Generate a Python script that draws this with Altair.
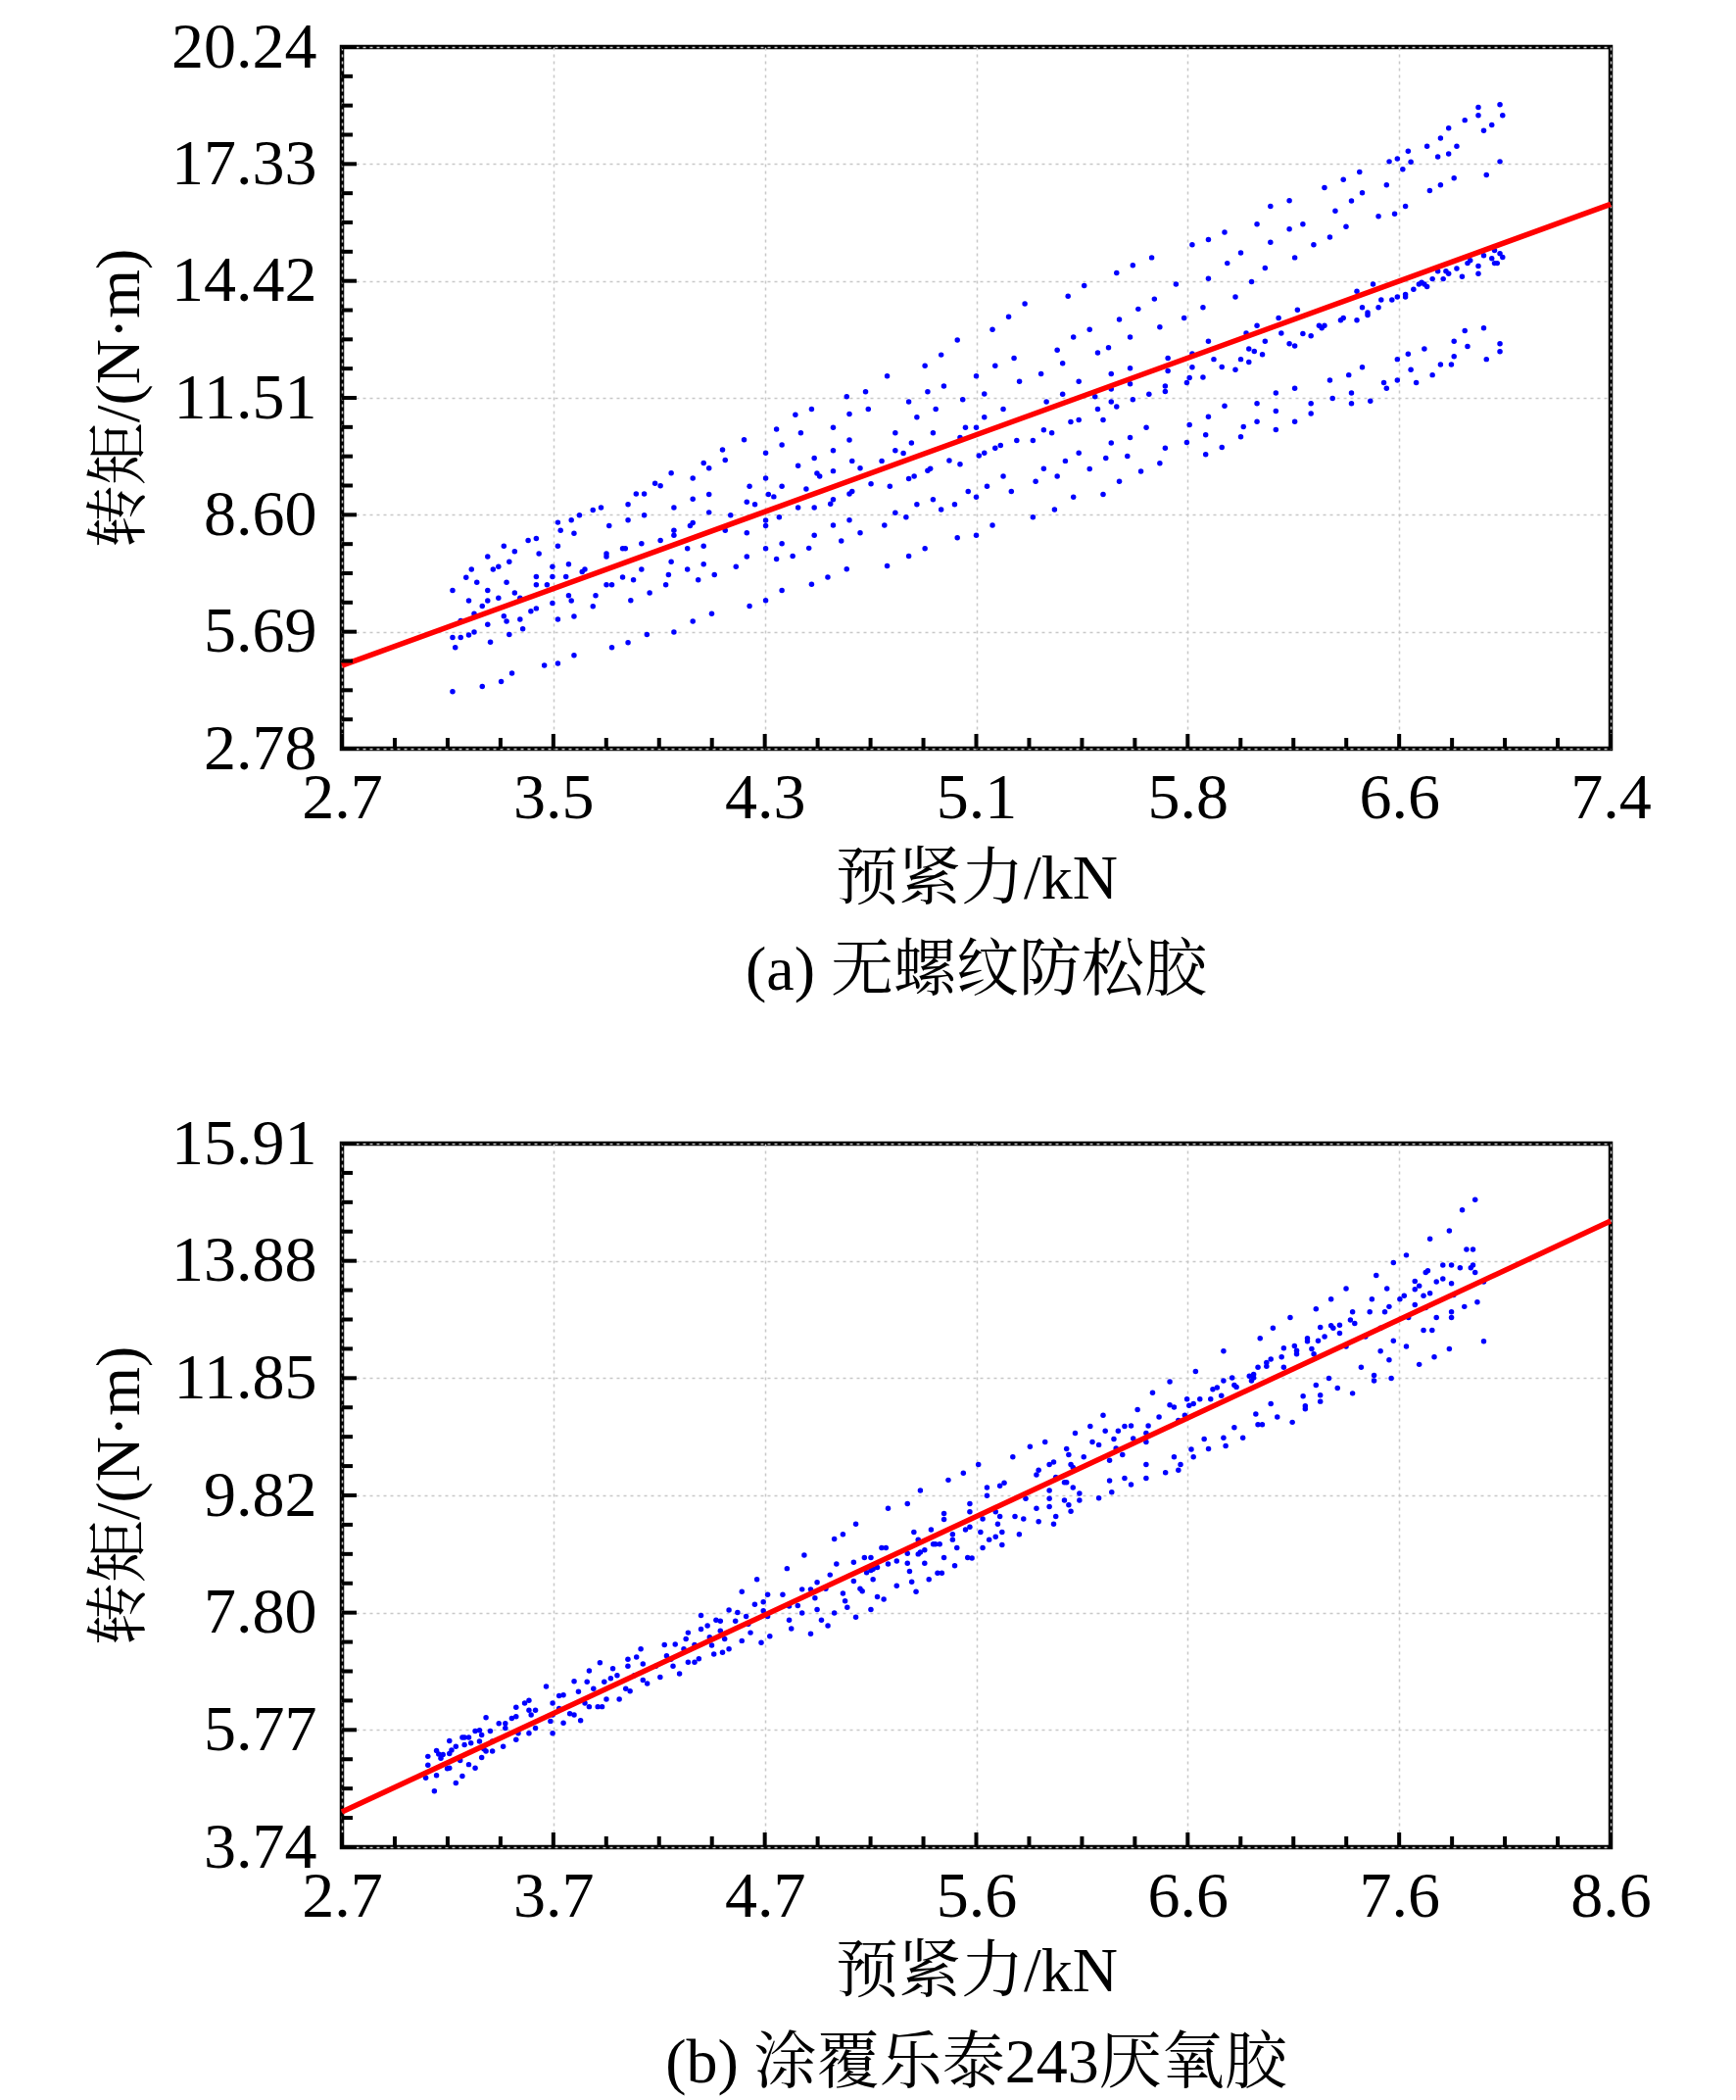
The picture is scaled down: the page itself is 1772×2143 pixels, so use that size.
import altair as alt
import pandas as pd

FONT = "Liberation Serif, Noto Serif CJK SC, Noto Sans CJK SC"

# ---------------- panel (a) data: (预紧力 kN, 转矩 N·m) ----------------
a_pts_1 = [(3.11,6.72),(3.11,4.20),(3.11,5.55),(3.14,5.55),(3.12,5.30),(3.14,5.96),(3.16,7.04),(3.17,6.46),
 (3.17,5.61),(3.19,5.68),(3.18,7.24),(3.19,6.14),(3.20,6.92),(3.22,6.33),(3.22,4.33),(3.24,7.56),(3.24,6.72),
 (3.24,6.46),(3.24,5.87),(3.25,5.43),(3.26,7.24),(3.28,7.31),(3.28,6.53),(3.29,4.45),(3.30,7.82),(3.30,6.08),
 (3.31,5.95),(3.31,6.92),(3.32,7.43),(3.32,5.62),(3.33,4.66),(3.34,7.69),(3.34,6.66),(3.36,6.53),(3.36,6.00),
 (3.37,5.76),(3.39,7.96),(3.40,6.20),(3.42,6.27),(3.42,8.01),(3.42,7.06),(3.42,6.86),(3.43,7.63),(3.45,4.85),
 (3.46,6.86),(3.48,7.31),(3.48,7.06),(3.48,6.40),(3.50,8.41),(3.50,7.82),(3.50,6.00),(3.50,4.90),(3.51,8.21),
 (3.53,7.06),(3.54,7.37),(3.54,6.59),(3.55,6.46),(3.55,8.47),(3.56,8.14),(3.56,6.07),(3.56,5.10),(3.58,8.59),
 (3.59,7.18),(3.60,7.24),(3.63,8.72),(3.66,8.78),(3.63,6.32),(3.64,6.59),(3.68,6.86),(3.70,6.86),(3.68,7.63),
 (3.68,7.56),(3.69,8.33),(3.70,5.30),(3.74,7.76),(3.75,7.76),(3.74,7.05),(3.76,8.86),(3.76,8.47),(3.76,5.42),
 (3.77,6.47),(3.78,6.98),(3.79,9.12),(3.82,9.12),(3.81,7.88),(3.81,7.24),(3.82,8.59),(3.83,5.62),(3.84,6.66),
 (3.86,9.38),(3.88,9.32),(3.88,7.96),(3.90,6.86),(3.91,7.11),(3.92,9.64),(3.92,7.43),(3.93,8.78),(3.93,8.21),
 (3.93,8.09),(3.93,5.68),(3.98,7.76),(3.98,7.24),(3.99,8.33),(4.00,8.40),(4.00,9.51),(4.00,8.99),(4.00,5.95),
 (4.02,6.98),(4.04,7.82),(4.04,7.37),(4.04,9.89),(4.06,9.76),(4.06,9.11),(4.06,8.66),(4.07,6.14),(4.08,7.11),
 (4.11,10.22),(4.12,9.96),(4.12,8.21),(4.14,8.59),(4.16,7.31),(4.19,10.47),(4.20,8.92),(4.20,8.15),(4.20,7.56),
 (4.21,9.31),(4.21,6.33),(4.23,8.86),(4.27,10.14),(4.27,9.51),(4.27,8.46),(4.27,8.33),(4.27,7.76),(4.27,6.47),
 (4.28,9.11),(4.30,9.05),(4.31,7.50),(4.31,10.73),(4.32,8.54),(4.33,10.34),(4.33,9.31),(4.33,7.88),(4.33,6.72)]

a_pts_2 = [(4.37,7.57),(4.38,11.09),(4.39,9.82),(4.39,8.78),(4.40,10.64),(4.42,9.24),(4.43,7.77),(4.44,11.23),
 (4.44,6.87),(4.45,10.01),(4.45,8.78),(4.45,8.09),(4.46,9.63),(4.47,9.56),(4.50,7.05),(4.51,8.87),(4.52,8.98),
 (4.52,10.77),(4.52,10.20),(4.52,9.69),(4.52,8.34),(4.55,7.95),(4.57,11.54),(4.57,7.25),(4.58,11.11),(4.58,10.46),
 (4.58,8.47),(4.58,9.12),(4.59,9.18),(4.59,9.94),(4.62,9.76),(4.62,8.15),(4.64,11.66),(4.65,11.23),(4.66,9.37),
 (4.70,9.94),(4.71,8.34),(4.72,12.05),(4.72,7.33),(4.73,9.31),(4.75,10.64),(4.75,10.20),(4.75,8.65),(4.78,10.13),
 (4.79,8.54),(4.80,11.41),(4.80,9.50),(4.82,9.56),(4.80,7.57),(4.81,10.39),(4.83,11.03),(4.83,8.86),(4.86,12.31),
 (4.86,7.76),(4.87,11.66),(4.87,9.70),(4.88,9.75),(4.89,10.64),(4.89,8.98),(4.90,11.23),(4.92,12.58),(4.92,8.73),
 (4.93,11.80),(4.95,9.95),(4.97,8.86),(4.98,12.95),(4.98,8.03),(4.99,10.52),(4.99,9.86),(5.00,11.47),(5.01,10.77),
 (5.02,9.18),(5.05,12.05),(5.05,10.77),(5.05,9.04),(5.05,8.09),(5.06,10.07),(5.08,10.14),(5.08,11.61),(5.08,11.03),
 (5.09,9.31),(5.11,13.21),(5.11,8.34),(5.12,12.31),(5.12,10.26),(5.14,10.33),(5.15,11.23),(5.15,9.56),(5.17,13.53),
 (5.18,9.18),(5.19,12.50),(5.20,10.45),(5.21,11.92),(5.23,13.85),(5.26,10.45),(5.26,8.54),(5.27,9.43),(5.29,12.11),
 (5.30,10.71),(5.30,9.75),(5.31,11.41),(5.33,10.64),(5.34,8.73),(5.35,12.70),(5.35,9.56),(5.37,12.37),(5.37,11.60),
 (5.38,9.94),(5.39,14.04),(5.40,10.91),(5.41,13.02),(5.41,9.04),(5.43,11.92),(5.43,10.96),(5.43,10.14),(5.45,14.30),
 (5.47,13.21),(5.47,9.74),(5.49,11.54),(5.50,12.63),(5.50,11.23),(5.52,10.96),(5.52,9.11),(5.53,10.01),(5.54,12.76),
 (5.55,12.11),(5.55,11.41),(5.55,11.73),(5.55,10.39),(5.57,14.62),(5.57,11.29),(5.58,13.46),(5.58,9.43),(5.61,10.06),
 (5.62,13.02),(5.62,12.25),(5.62,11.86),(5.62,10.52),(5.63,14.81),(5.63,11.47),(5.65,13.72),(5.66,9.68),(5.68,10.77),
 (5.69,11.60),(5.70,15.00),(5.71,13.97),(5.73,13.27),(5.73,9.88),(5.75,11.80),(5.75,11.67),(5.75,10.26),(5.76,12.50),
 (5.76,12.18)]

a_pts_3 = [(5.79,14.34),(5.82,13.50),(5.83,10.40),(5.83,11.89),(5.84,12.01),(5.84,10.84),(5.85,15.32),(5.85,12.61),
 (5.85,12.27),(5.89,13.76),(5.89,12.02),(5.90,10.59),(5.90,10.10),(5.91,15.45),(5.91,14.48),(5.91,12.92),(5.91,11.04),
 (5.93,12.47),(5.96,12.28),(5.96,10.28),(5.97,15.63),(5.97,11.31),(5.98,14.86),(6.01,14.02),(6.01,12.21),(6.03,15.12),
 (6.03,12.47),(6.03,10.54),(6.04,10.79),(6.05,13.12),(6.06,12.40),(6.06,12.73),(6.08,12.67),(6.07,14.40),(6.09,15.83),
 (6.09,13.31),(6.09,11.37),(6.09,10.92),(6.11,12.59),(6.12,14.74),(6.12,12.92),(6.14,16.28),(6.14,15.38),(6.16,11.63),
 (6.16,11.18),(6.16,10.72),(6.17,13.50),(6.18,13.12),(6.21,16.42),(6.21,15.71),(6.21,12.86),(6.23,12.80),(6.23,15.00),
 (6.23,11.75),(6.23,10.92),(6.24,13.70),(6.26,15.83),(6.26,13.11),(6.29,13.05),(6.29,11.37),(6.29,11.12),(6.30,15.32),
 (6.32,13.31),(6.33,13.25),(6.34,13.31),(6.34,16.74),(6.36,15.51),(6.36,11.95),(6.37,11.50),(6.38,16.16),(6.40,13.44),
 (6.41,13.50),(6.41,16.94),(6.42,15.77),(6.43,12.08),(6.44,16.41),(6.44,11.63),(6.44,11.37),(6.46,13.44),(6.46,14.16),
 (6.47,17.13),(6.48,16.61),(6.48,13.76),(6.48,12.27),(6.50,13.63),(6.50,13.57),(6.51,11.43),(6.52,14.34),(6.54,16.03),
 (6.54,13.76),(6.55,13.95),(6.56,11.89),(6.57,11.75),(6.57,16.81),(6.58,17.39),(6.59,13.95),(6.60,16.09),(6.61,17.46),
 (6.61,14.02),(6.61,12.47),(6.61,11.95),(6.63,17.20),(6.64,14.08),(6.64,14.02),(6.64,16.28),(6.65,17.65),(6.65,12.60),
 (6.66,17.38),(6.66,12.21),(6.67,14.21),(6.68,11.89),(6.69,14.34),(6.70,14.38),(6.71,14.34),(6.72,14.28),(6.71,12.73),
 (6.72,17.77),(6.73,16.67),(6.74,14.47),(6.74,12.08),(6.76,17.51),(6.76,14.66),(6.77,17.97),(6.77,16.81),(6.77,12.34),
 (6.78,14.47),(6.79,14.66),(6.80,14.60),(6.80,18.22),(6.80,17.58),(6.81,12.34),(6.82,16.98),(6.82,12.92),(6.82,12.54),
 (6.83,17.77),(6.83,14.73),(6.85,14.53),(6.86,18.42),(6.86,13.18),(6.87,12.79),(6.87,14.86),(6.88,14.93),(6.91,14.79),
 (6.91,14.60),(6.91,18.54),(6.91,18.74),(6.93,18.16),(6.93,15.05),(6.93,13.25),(6.94,17.06),(6.94,12.47),(6.96,14.98),
 (6.97,14.86),(6.98,14.86),(6.97,15.18),(6.99,15.10),(6.96,18.30),(6.99,18.81),(6.99,17.39),(6.99,12.86),(6.99,12.66),
 (7.00,18.54),(7.00,15.01)]

a_fit_x = [2.7, 7.4]
a_fit_y = [4.85, 16.33]

# ---------------- panel (b) data ----------------
b_pts_1 = [(3.09,4.94),(3.10,5.31),(3.10,5.16),(3.13,4.71),(3.14,5.41),(3.14,4.98),(3.15,5.35),(3.16,5.28),
 (3.17,5.34),(3.19,5.10),(3.20,5.11),(3.20,5.58),(3.20,5.36),(3.21,5.42),(3.23,4.85),(3.23,5.48),(3.25,5.24),
 (3.26,5.64),(3.27,5.64),(3.29,5.64),(3.26,4.97),(3.27,5.51),(3.29,5.17),(3.30,5.54),(3.32,5.11),(3.32,5.75),
 (3.34,5.76),(3.35,5.68),(3.34,5.57),(3.35,5.29),(3.36,5.44),(3.37,5.98),(3.37,5.40),(3.39,5.75),(3.40,5.40),
 (3.40,5.57),(3.43,5.88),(3.46,5.88),(3.45,5.48),(3.46,5.80),(3.49,5.97),(3.51,6.00),(3.51,6.16),(3.51,5.60),
 (3.52,5.71),(3.55,6.23),(3.57,6.28),(3.57,6.11),(3.57,5.71),(3.58,6.03),(3.60,6.11),(3.60,5.80),(3.65,6.52),
 (3.67,5.92),(3.68,6.23),(3.68,5.71),(3.68,6.03),(3.71,6.36),(3.73,6.37),(3.71,6.14),(3.73,5.89),(3.76,6.05),
 (3.78,6.61),(3.78,6.03),(3.80,6.43),(3.81,5.93),(3.83,6.23),(3.84,6.60),(3.85,6.79),(3.85,6.17),(3.87,6.48),
 (3.89,6.17),(3.90,6.93),(3.91,6.17),(3.92,6.60),(3.93,6.30),(3.95,6.66),(3.96,6.83),(3.98,6.71),(3.99,6.30),
 (4.02,6.48),(4.04,6.44),(4.03,6.99),(4.03,6.87),(4.06,6.71),(4.07,7.03),(4.09,7.17),(4.10,6.91),(4.10,6.63),
 (4.12,6.57),(4.16,6.87),(4.18,6.68),(4.20,7.24),(4.21,7.05),(4.23,6.99),(4.24,6.87),(4.25,7.25),(4.27,6.74),
 (4.29,7.17),(4.30,7.34),(4.31,6.94),(4.34,6.94),(4.31,7.45),(4.34,7.24),(4.36,7.00),(4.37,7.75),(4.37,7.51),
 (4.40,7.57),(4.41,7.37),(4.42,7.23),(4.43,7.08),(4.44,7.67),(4.46,7.65),(4.46,7.48),(4.47,7.11),(4.48,7.34),
 (4.50,7.84),(4.50,7.17),(4.53,7.65),(4.54,7.80),(4.56,8.16),(4.56,7.31),(4.58,7.73),(4.59,7.60),(4.60,7.45),
 (4.62,7.94),(4.63,8.37),(4.65,7.28),(4.66,7.98),(4.66,7.83),(4.68,8.11),(4.68,7.73),(4.69,7.39),(4.75,8.11),
 (4.77,8.56),(4.78,7.67),(4.78,7.91),(4.79,7.52),(4.82,7.92),(4.84,8.20),(4.84,7.79),(4.85,8.79),(4.88,7.43),
 (4.88,8.20),(4.90,8.05),(4.91,7.85),(4.91,8.32),(4.93,7.67),(4.95,8.21),(4.96,7.57),(4.97,8.45),(4.99,9.07),
 (4.99,7.79),(5.00,8.64)]

b_pts_2 = [(5.03,9.15),(5.03,8.13),(5.04,8.00),(5.05,7.89),(5.08,8.67),(5.08,8.34),(5.09,9.33),(5.09,7.72),
 (5.11,8.21),(5.12,8.17),(5.13,8.75),(5.16,8.75),(5.14,8.49),(5.16,8.53),(5.17,8.55),(5.19,8.58),(5.16,7.85),
 (5.17,8.37),(5.19,8.07),(5.22,8.03),(5.21,8.92),(5.23,8.92),(5.24,8.64),(5.24,9.60),(5.28,8.26),(5.28,8.69),
 (5.33,9.68),(5.33,8.82),(5.33,8.65),(5.34,8.51),(5.35,8.33),(5.36,9.19),(5.37,8.16),(5.38,9.06),(5.38,8.81),
 (5.39,8.84),(5.41,8.88),(5.39,9.91),(5.41,8.65),(5.43,8.37),(5.44,9.23),(5.45,8.98),(5.46,8.98),(5.48,8.98),
 (5.47,8.48),(5.49,8.48),(5.50,9.51),(5.50,9.41),(5.50,8.75),(5.52,10.09),(5.54,9.15),(5.54,9.06),(5.55,8.61),
 (5.56,8.92),(5.59,10.21),(5.60,9.23),(5.62,9.28),(5.61,8.75),(5.63,8.74),(5.62,9.68),(5.62,9.54),(5.66,10.36),
 (5.67,9.19),(5.68,8.92),(5.68,9.42),(5.70,9.96),(5.70,9.82),(5.71,9.06),(5.74,9.11),(5.74,9.54),(5.75,9.33),
 (5.76,9.99),(5.78,10.04),(5.76,9.46),(5.77,9.19),(5.77,8.97),(5.82,10.49),(5.83,9.46),(5.85,9.15),(5.87,9.42),
 (5.88,9.77),(5.90,10.67),(5.93,10.18),(5.94,10.26),(5.93,9.60),(5.94,9.37),(5.97,10.75),(5.99,10.36),(6.01,10.40),
 (5.99,9.91),(5.99,9.77),(5.99,9.63),(6.01,9.33),(6.02,10.14),(6.02,9.46),(6.06,10.05),(6.07,10.05),(6.06,9.74),
 (6.07,10.63),(6.08,10.53),(6.08,9.66),(6.09,9.55),(6.09,10.36),(6.10,10.31),(6.10,9.96),(6.11,10.90),(6.13,9.86),
 (6.13,9.74),(6.15,10.49),(6.18,11.02),(6.19,10.75),(6.22,10.70),(6.22,9.78),(6.24,11.21),(6.25,10.94),(6.27,10.43),
 (6.27,10.08),(6.28,9.88),(6.29,10.80),(6.30,10.64),(6.31,10.94),(6.33,10.53),(6.34,11.02),(6.34,10.12),(6.37,10.01),
 (6.37,11.03),(6.38,10.81),(6.40,11.31),(6.44,10.90),(6.44,10.75),(6.44,10.36),(6.44,10.12),(6.45,11.03),(6.47,11.60),
 (6.50,11.18),(6.53,10.22),(6.55,11.79),(6.55,11.39),(6.57,11.35),(6.57,10.49),(6.59,10.26),(6.60,10.36),(6.59,11.12),
 (6.62,11.21),(6.63,11.49),(6.64,11.38),(6.66,11.41),(6.65,10.62),(6.66,10.49),(6.67,11.97),(6.69,11.49),(6.71,10.80),
 (6.73,10.63),(6.74,11.49),(6.75,11.66),(6.77,11.69),(6.79,11.55)]

b_pts_3 = [(6.80,12.32),(6.80,11.81),(6.80,10.82),(6.81,10.68),(6.84,11.86),(6.85,11.73),(6.86,11.70),(6.85,11.00),
 (6.89,10.82),(6.92,11.89),(6.94,11.92),(6.94,11.86),(6.93,11.81),(6.95,11.23),(6.96,12.04),(6.96,11.05),(6.98,11.05),
 (6.97,12.54),(7.00,12.12),(7.00,12.06),(7.02,12.18),(7.02,11.41),(7.03,12.72),(7.05,11.18),(7.07,12.22),(7.08,12.37),
 (7.08,12.04),(7.11,12.90),(7.12,11.09),(7.13,12.41),(7.14,12.33),(7.14,12.27),(7.17,11.54),(7.18,11.37),(7.18,11.32),
 (7.19,12.54),(7.19,12.49),(7.21,12.36),(7.22,12.27),(7.23,13.05),(7.23,11.73),(7.24,12.50),(7.25,12.73),(7.25,11.56),
 (7.25,11.45),(7.27,12.57),(7.29,11.85),(7.30,13.22),(7.30,12.76),(7.31,12.72),(7.33,11.68),(7.34,12.77),(7.34,12.63),
 (7.37,13.40),(7.37,12.40),(7.39,12.86),(7.41,12.80),(7.40,13.00),(7.40,11.59),(7.44,12.04),(7.46,12.57),(7.48,13.00),
 (7.49,13.22),(7.50,11.90),(7.50,11.81),(7.51,13.63),(7.53,12.72),(7.53,12.32),(7.55,13.00),(7.56,13.40),(7.57,13.09),
 (7.57,12.17),(7.58,11.85),(7.59,13.85),(7.59,12.50),(7.62,13.22),(7.64,13.28),(7.65,12.40),(7.65,13.98),(7.66,12.90),
 (7.69,13.53),(7.69,13.39),(7.69,13.12),(7.71,13.45),(7.71,12.09),(7.73,13.28),(7.73,12.68),(7.74,13.68),(7.75,13.71),
 (7.74,13.07),(7.76,14.26),(7.76,13.32),(7.77,12.68),(7.78,12.22),(7.79,13.52),(7.79,12.90),(7.82,13.81),(7.82,13.57),
 (7.85,14.40),(7.85,12.36),(7.86,13.81),(7.86,13.49),(7.86,13.00),(7.86,12.90),(7.87,13.29),(7.90,13.76),(7.91,14.76),
 (7.92,13.09),(7.93,14.08),(7.96,14.08),(7.96,13.81),(7.95,13.76),(7.97,14.94),(7.97,13.68),(7.98,13.17),(8.01,13.52),
 (8.01,12.49)]

b_fit_x = [2.7, 8.6]
b_fit_y = [4.35, 14.57]

# axis setups (6 equal intervals, labels as printed)
a_xdom, a_ydom = [2.7, 7.4], [2.78, 20.24]
a_xlabels = ["2.7", "3.5", "4.3", "5.1", "5.8", "6.6", "7.4"]
a_ylabels = ["2.78", "5.69", "8.60", "11.51", "14.42", "17.33", "20.24"]
b_xdom, b_ydom = [2.7, 8.6], [3.74, 15.91]
b_xlabels = ["2.7", "3.7", "4.7", "5.6", "6.6", "7.6", "8.6"]
b_ylabels = ["3.74", "5.77", "7.80", "9.82", "11.85", "13.88", "15.91"]

X_TITLE = "预紧力/kN"
Y_TITLE = "转矩/(N·m)"
W = 1295


def panel(points, fit_x, fit_y, xdom, ydom, xlabels, ylabels, caption, H, tpad):
    df = pd.DataFrame(points, columns=["f", "t"])
    fit = pd.DataFrame({"f": fit_x, "t": fit_y})
    xs = alt.Scale(domain=xdom, nice=False, zero=False)
    ys = alt.Scale(domain=ydom, nice=False, zero=False)
    xstep = (xdom[1] - xdom[0]) / 6
    ystep = (ydom[1] - ydom[0]) / 6
    xvals = [xdom[0] + i * xstep for i in range(7)]
    yvals = [ydom[0] + i * ystep for i in range(7)]
    xexpr = "%s[round((datum.value - %r) / %r)]" % (str(xlabels), xdom[0], xstep)
    yexpr = "%s[round((datum.value - %r) / %r)]" % (str(ylabels), ydom[0], ystep)

    common_axis = dict(domain=False, ticks=False, grid=True, gridColor="#c8c8c8",
                       gridDash=[3, 4], gridWidth=1.5, labelFont=FONT, labelFontSize=66,
                       labelColor="black", titleFont=FONT, titleFontSize=64,
                       titleFontWeight="normal", titleColor="black", labelFlush=False,
                       labelOverlap=False)
    xaxis = alt.Axis(values=xvals, labelExpr=xexpr, title=X_TITLE, labelPadding=18,
                     titlePadding=tpad, **common_axis)
    yaxis = alt.Axis(values=yvals, labelExpr=yexpr, title=Y_TITLE, labelPadding=26,
                     titlePadding=20, **common_axis)

    X = lambda: alt.X("f:Q", scale=xs, axis=xaxis)
    Y = lambda: alt.Y("t:Q", scale=ys, axis=yaxis)

    pts = alt.Chart(df).mark_circle(color="#0000ff", size=30, opacity=1).encode(x=X(), y=Y())
    line = alt.Chart(fit).mark_line(color="#ff0000", strokeWidth=5.5).encode(x=X(), y=Y())

    # inward minor/major ticks (4 sub-intervals per labelled interval)
    xt = [xdom[0] + k * (xdom[1] - xdom[0]) / 24 for k in range(25)]
    yt = [ydom[0] + k * (ydom[1] - ydom[0]) / 24 for k in range(25)]
    xmaj = pd.DataFrame({"f": [v for k, v in enumerate(xt) if k % 4 == 0]})
    xmin_ = pd.DataFrame({"f": [v for k, v in enumerate(xt) if k % 4 != 0]})
    ymaj = pd.DataFrame({"t": [v for k, v in enumerate(yt) if k % 4 == 0]})
    ymin_ = pd.DataFrame({"t": [v for k, v in enumerate(yt) if k % 4 != 0]})

    def xtick(d, ln):
        return alt.Chart(d).mark_rule(color="black", strokeWidth=4).encode(
            x=X(), y=alt.value(H), y2=alt.value(H - ln))

    def ytick(d, ln):
        return alt.Chart(d).mark_rule(color="black", strokeWidth=4).encode(
            y=Y(), x=alt.value(0), x2=alt.value(ln))

    return alt.layer(pts, line, xtick(xmaj, 15), xtick(xmin_, 11),
                     ytick(ymaj, 15), ytick(ymin_, 11)).properties(
        width=W, height=H,
        title=alt.TitleParams(text=caption, orient="bottom", anchor="middle", frame="group",
                              offset=30, font=FONT, fontSize=64, fontWeight="normal",
                              color="black"),
    )


top = panel(a_pts_1 + a_pts_2 + a_pts_3, a_fit_x, a_fit_y, a_xdom, a_ydom,
            a_xlabels, a_ylabels, "(a) 无螺纹防松胶", 716, 18)
bottom = panel(b_pts_1 + b_pts_2 + b_pts_3, b_fit_x, b_fit_y, b_xdom, b_ydom,
               b_xlabels, b_ylabels, "(b) 涂覆乐泰243厌氧胶", 718, 12)

chart = alt.vconcat(top, bottom, spacing=105).properties(
    padding={"left": 80, "top": 4, "right": 30, "bottom": 0},
    background="white",
).configure_view(stroke="black", strokeWidth=4.5)

chart.save("out.html", embed_options={"renderer": "svg", "actions": False})
